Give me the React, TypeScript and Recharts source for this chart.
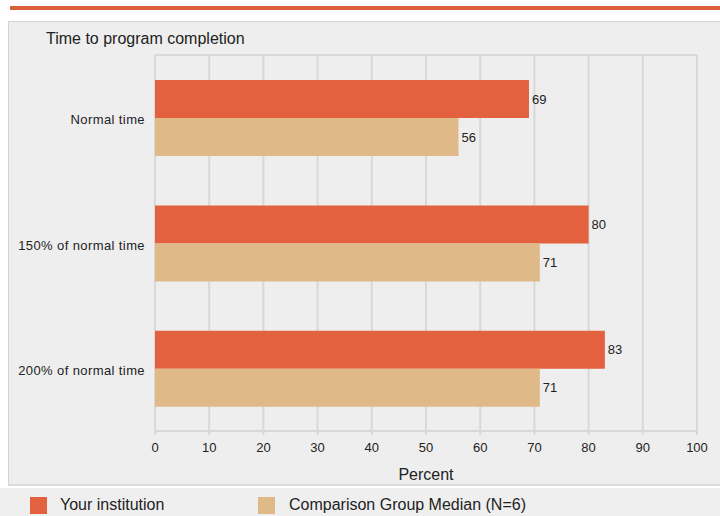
import React from "react";
import {
  BarChart,
  Bar,
  XAxis,
  YAxis,
  CartesianGrid,
  LabelList,
} from "recharts";

const categories = ["Normal time", "150% of normal time", "200% of normal time"];
const institution = [69, 80, 83];
const comparison = [56, 71, 71];
const xTicks = [0, 10, 20, 30, 40, 50, 60, 70, 80, 90, 100];

const ORANGE = "#e3613f";
const TAN = "#dfb987";
const GRID = "#d8d8d8";
const TEXT = "#222";
const FONT = "Arial, 'Liberation Sans', sans-serif";

const data = categories.map((name, i) => ({
  name,
  institution: institution[i],
  comparison: comparison[i],
}));

export default function App() {
  return (
    <div
      style={{
        position: "absolute",
        left: 0,
        top: 0,
        width: 720,
        height: 516,
        background: "#fff",
        overflow: "hidden",
        fontFamily: FONT,
      }}
    >
      <div style={{ position: "absolute", left: 10, top: 6, width: 710, height: 4, background: "#d9603b" }} />
      <div
        style={{
          position: "absolute",
          left: 8,
          top: 21,
          width: 720,
          height: 465,
          background: "#eeeeee",
          borderTop: "1px solid #d3d3d3",
          borderLeft: "1px solid #d3d3d3",
          borderBottom: "2px solid #dcdcdc",
          boxSizing: "border-box",
        }}
      />
      <div style={{ position: "absolute", left: 0, top: 488, width: 720, height: 28, background: "#efefef" }} />
      <div style={{ position: "absolute", left: 46, top: 30, fontSize: 16, color: TEXT }}>
        Time to program completion
      </div>
      <div style={{ position: "absolute", left: 0, top: 0 }}>
        <BarChart
          width={720}
          height={516}
          data={data}
          layout="vertical"
          margin={{ top: 55, right: 23, left: 10, bottom: 35 }}
          barCategoryGap="20%"
          barGap={0}
        >
          <CartesianGrid
            stroke={GRID}
            strokeWidth={2}
            horizontalPoints={[55]}
            fill="none"
          />
          <XAxis
            type="number"
            domain={[0, 100]}
            ticks={xTicks}
            height={50}
            tickSize={4}
            tickMargin={8}
            axisLine={{ stroke: GRID, strokeWidth: 2 }}
            tickLine={{ stroke: GRID, strokeWidth: 2 }}
            tick={{ fill: TEXT, fontSize: 13, fontFamily: FONT }}
            label={{ value: "Percent", position: "insideBottom", offset: 1, fill: TEXT, fontSize: 16, fontFamily: FONT }}
          />
          <YAxis
            type="category"
            dataKey="name"
            width={145}
            axisLine={false}
            tickLine={false}
            tickSize={0}
            tickMargin={10}
            tick={{ fill: TEXT, fontSize: 13, fontFamily: FONT, letterSpacing: 0.4, dy: 2 }}
          />
          <Bar dataKey="institution" fill={ORANGE} isAnimationActive={false}>
            <LabelList dataKey="institution" position="right" offset={3} fill={TEXT} fontSize={13} fontFamily={FONT} />
          </Bar>
          <Bar dataKey="comparison" fill={TAN} isAnimationActive={false}>
            <LabelList dataKey="comparison" position="right" offset={3} fill={TEXT} fontSize={13} fontFamily={FONT} />
          </Bar>
        </BarChart>
      </div>
      <div style={{ position: "absolute", left: 30, top: 497, width: 17, height: 17, background: ORANGE }} />
      <div style={{ position: "absolute", left: 60, top: 496, fontSize: 16, color: TEXT }}>Your institution</div>
      <div style={{ position: "absolute", left: 258, top: 497, width: 17, height: 17, background: TAN }} />
      <div style={{ position: "absolute", left: 289, top: 496, fontSize: 16, color: TEXT }}>
        Comparison Group Median (N=6)
      </div>
    </div>
  );
}
